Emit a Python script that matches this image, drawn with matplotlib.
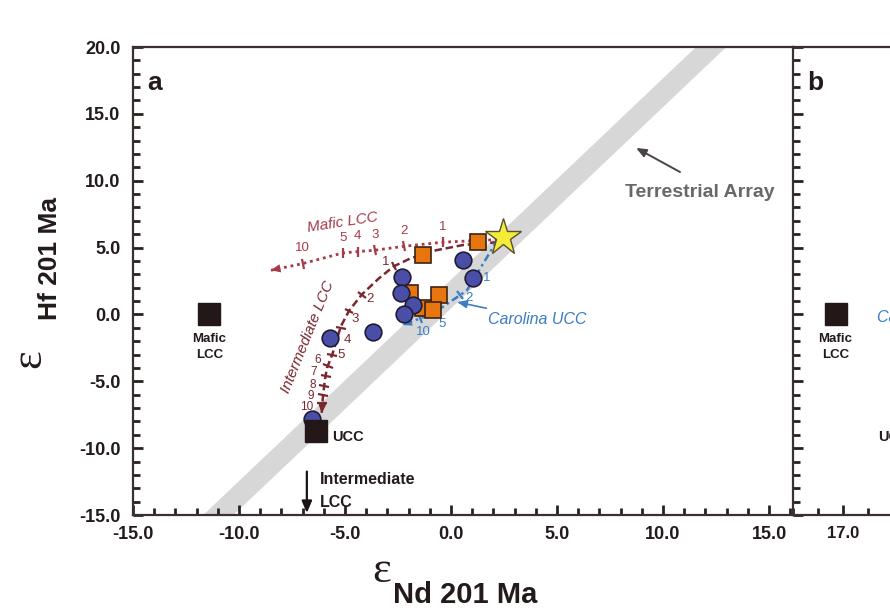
import matplotlib
matplotlib.use('Agg')
import matplotlib.pyplot as plt
from matplotlib.markers import MarkerStyle
from matplotlib.transforms import Affine2D
from matplotlib.ticker import MultipleLocator, FixedLocator, FormatStrFormatter
import numpy as np

plt.rcParams['font.family'] = ['Liberation Sans', 'DejaVu Sans']
plt.rcParams['axes.unicode_minus'] = False

# ---------------- data ----------------
# samples (panel a)
circle_nd = [-2.3, -2.35, -1.8, -2.2, 0.55, 1.05, -3.7, -5.7, -6.55]
circle_hf = [2.8, 1.6, 0.7, 0.0, 4.1, 2.75, -1.3, -1.75, -7.85]
square_nd = [1.25, -1.3, -1.95, -0.55, -1.3, -0.85]
square_hf = [5.45, 4.45, 1.6, 1.45, 0.5, 0.35]
star_nd, star_hf = [2.45], [5.8]

# end members
mafic_lcc = (-11.4, 0.0)
ucc = (-6.35, -8.7)
mafic_lcc_b = (16.7, 0.0)

# terrestrial array band (end points)
tarr_nd = [-12.3, 13.6]
tarr_hf = [-17.0, 22.0]

# mixing curves
mafic_x = [2.2, -0.4, -2.2, -3.6, -4.4, -5.1, -7.0, -8.5]
mafic_y = [5.6, 5.4, 5.1, 4.8, 4.7, 4.6, 3.8, 3.3]
mafic_tick_x = [-0.4, -2.2, -3.6, -4.4, -5.1, -7.0]
mafic_tick_y = [5.4, 5.1, 4.8, 4.7, 4.6, 3.8]
mafic_tick_lab = ['1', '2', '3', '4', '5', '10']

inter_x = [2.2, 0.6, -0.7, -1.9, -2.7, -3.4, -4.2, -4.8, -5.2, -5.6, -5.85, -5.95, -6.05, -6.1]
inter_y = [5.4, 5.2, 4.8, 4.2, 3.6, 2.7, 1.5, 0.3, -0.9, -3.0, -4.0, -4.9, -6.3, -7.4]
inter_tick_x = [-2.7, -4.2, -4.8, -5.2, -5.6, -5.82, -5.92, -5.98, -6.03, -6.07]
inter_tick_y = [3.6, 1.45, 0.25, -1.0, -3.0, -3.85, -4.6, -5.35, -6.0, -6.6]
inter_tick_lab = ['1', '2', '3', '4', '5', '6', '7', '8', '9', '10']

car_x = [2.2, 1.4, 0.75, -0.4, -1.3, -2.3]
car_y = [5.6, 3.5, 1.8, 0.55, -0.2, -0.8]
car_tick_x = [1.1, 0.4, -0.6, -1.45]
car_tick_y = [2.8, 1.45, 0.35, -0.27]
car_tick_lab = ['1', '2', '5', '10']

xticks_a = [-15, -10, -5, 0, 5, 10, 15]
yticks = [-15, -10, -5, 0, 5, 10, 15, 20]

# ---------------- style ----------------
SPINE = '#3b3030'
C_MAF = '#a63a46'
C_INT = '#7a2830'
C_CAR = '#3b7cc4'
C_BAND = '#d8d7d7'
C_ORANGE = '#e8760f'
C_BLUE = '#4a4ea6'

fig = plt.figure(figsize=(8.9, 6.08), dpi=100)
L, R, B, T = 133 / 890, 793 / 890, 1 - 515 / 608, 1 - 47 / 608
ax = fig.add_axes([L, B, R - L, T - B])
axb = fig.add_axes([R, B, (1200 - 793) / 890, T - B])

ax.set_xlim(-15, 16.13)
ax.set_ylim(-15, 20)
axb.set_xlim(15, 15 + 407 / 25)
axb.set_ylim(-15, 20)

for a in (ax, axb):
    for s in a.spines.values():
        s.set_color(SPINE)
        s.set_linewidth(1.6)
    a.tick_params(which='both', direction='in', color='#2a2020', width=2.0,
                  labelsize=13, top=False, right=False)
    a.tick_params(which='major', length=7)
    a.tick_params(which='minor', length=5)
ax.spines['right'].set_visible(False)
axb.spines['right'].set_visible(False)
axb.patch.set_visible(False)

ax.xaxis.set_major_locator(FixedLocator(xticks_a))
ax.xaxis.set_minor_locator(MultipleLocator(1))
ax.yaxis.set_major_locator(FixedLocator(yticks))
ax.yaxis.set_minor_locator(MultipleLocator(1))
ax.xaxis.set_major_formatter(FormatStrFormatter('%.1f'))
ax.yaxis.set_major_formatter(FormatStrFormatter('%.1f'))
ax.tick_params(axis='y', pad=9)
ax.tick_params(axis='x', pad=8)

axb.xaxis.set_major_locator(FixedLocator([17]))
axb.xaxis.set_minor_locator(MultipleLocator(1))
axb.xaxis.set_major_formatter(FormatStrFormatter('%.1f'))
axb.yaxis.set_major_locator(FixedLocator(yticks))
axb.yaxis.set_minor_locator(MultipleLocator(1))
axb.tick_params(axis='y', labelleft=False)
axb.tick_params(axis='x', pad=8, labelsize=12)

for lab in ax.get_xticklabels() + ax.get_yticklabels() + axb.get_xticklabels():
    lab.set_fontweight('bold')
    lab.set_color('#231a1a')

# terrestrial array
ax.plot(tarr_nd, tarr_hf, color=C_BAND, lw=15, solid_capstyle='butt', zorder=1)


def curve_ticks(xs, ys, cx, cy, color, labels, offsets, sizes):
    P = ax.transData.transform(np.column_stack([cx, cy]))
    for x, y, lab, off, fs in zip(xs, ys, labels, offsets, sizes):
        p = ax.transData.transform((x, y))
        best, ang = 1e9, 0
        for i in range(len(P) - 1):
            a0, a1 = P[i], P[i + 1]
            d = a1 - a0
            t = np.clip(np.dot(p - a0, d) / np.dot(d, d), 0, 1)
            dist = np.linalg.norm(a0 + t * d - p)
            if dist < best:
                best, ang = dist, np.degrees(np.arctan2(d[1], d[0]))
        m = MarkerStyle('|', transform=Affine2D().rotate_deg(ang))
        ax.plot([x], [y], marker=m, ms=7, mew=1.6, color=color, ls='none', zorder=3)
        ax.annotate(lab, (x, y), xytext=off, textcoords='offset points',
                    ha='center', va='center', color=color, fontsize=fs, zorder=3)


def arrow_end(cx, cy, color):
    ax.annotate('', xy=(cx[-1], cy[-1]), xytext=(cx[-2], cy[-2]),
                arrowprops=dict(arrowstyle='-|>,head_length=0.7,head_width=0.3',
                                color=color, lw=0, shrinkA=0, shrinkB=0),
                zorder=3)


# Mafic LCC mixing (dotted)
ax.plot(mafic_x, mafic_y, color=C_MAF, lw=2.0, ls=(0, (1, 1.4)), zorder=2)
arrow_end(mafic_x, mafic_y, C_MAF)
curve_ticks(mafic_tick_x, mafic_tick_y, mafic_x, mafic_y, C_MAF, mafic_tick_lab,
            [(0, 11)] * 6, [9.5] * 6)
ax.text(-5.1, 6.85, 'Mafic LCC', color=C_MAF, style='italic', fontsize=11,
        rotation=9, ha='center', va='center')

# Intermediate LCC mixing (dashed)
ax.plot(inter_x, inter_y, color=C_INT, lw=1.8, ls=(0, (3, 1.5)), zorder=2)
arrow_end(inter_x, inter_y, C_INT)
curve_ticks(inter_tick_x, inter_tick_y, inter_x, inter_y, C_INT, inter_tick_lab,
            [(-6, 3), (6, -3), (4, -6), (5, -9), (6, 0), (-7, 4.5), (-8.5, 3),
             (-8.5, 1), (-9, -1), (-11, -3.2)],
            [9.5, 9.5, 9.5, 9.5, 9.5, 8.5, 8.5, 8.5, 8.5, 8.5])
ax.text(-6.75, -1.7, 'Intermediate LCC', color=C_INT, style='italic', fontsize=11,
        rotation=68, ha='center', va='center')

# Carolina UCC mixing (dash-dot)
ax.plot(car_x, car_y, color=C_CAR, lw=1.8, ls=(0, (3, 1.5, 1, 1.5)), zorder=2)
arrow_end(car_x, car_y, C_CAR)
curve_ticks(car_tick_x, car_tick_y, car_x, car_y, C_CAR, car_tick_lab,
            [(9, -1), (7, -2), (3, -10), (2, -10)], [9.5] * 4)
ax.annotate('Carolina UCC', xy=(0.28, 0.93), xytext=(1.75, -0.35),
            color=C_CAR, style='italic', fontsize=11.5, ha='left', va='center',
            arrowprops=dict(arrowstyle='-|>,head_length=0.5,head_width=0.2',
                            color=C_CAR, lw=1.2, shrinkA=2, shrinkB=0))

# samples
ax.plot(square_nd, square_hf, 's', ms=11, mfc=C_ORANGE, mec='#3d2316', mew=1.2,
        ls='none', zorder=4)
ax.plot(circle_nd, circle_hf, 'o', ms=12, mfc=C_BLUE, mec='#1f1c36', mew=1.2,
        ls='none', zorder=5)
ax.plot(star_nd, star_hf, '*', ms=28, mfc='#f4ec38', mec='#5a5030', mew=1.0,
        ls='none', zorder=7)

# end members
ax.plot(*mafic_lcc, 's', ms=16, color='#231717', zorder=6)
ax.plot(*ucc, 's', ms=16, color='#231717', zorder=6)
ax.text(mafic_lcc[0], -1.4, 'Mafic\nLCC', ha='center', va='top', fontsize=9.5,
        fontweight='bold', color='#231a1a', linespacing=1.45)
ax.text(-5.6, -9.2, 'UCC', ha='left', va='center', fontsize=10.5,
        fontweight='bold', color='#231a1a')
ax.text(-6.2, -13.2, 'Intermediate\nLCC', ha='left', va='center', fontsize=11.5,
        fontweight='bold', color='#231a1a', linespacing=1.6)
ax.annotate('', xy=(-6.8, -14.85), xytext=(-6.8, -11.75),
            arrowprops=dict(arrowstyle='-|>,head_length=0.7,head_width=0.3',
                            color='#1a1414', lw=1.6, shrinkA=0, shrinkB=0))

# terrestrial array label
ax.text(8.2, 9.15, 'Terrestrial Array', color='#6b6768', fontsize=14,
        fontweight='bold', ha='left', va='center')
ax.annotate('', xy=(8.73, 12.45), xytext=(10.8, 10.65),
            arrowprops=dict(arrowstyle='-|>,head_length=0.6,head_width=0.25',
                            color='#4a4445', lw=1.4, shrinkA=0, shrinkB=0))

# panel labels
ax.text(0.022, 0.908, 'a', transform=ax.transAxes, fontsize=19, fontweight='bold',
        color='#231a1a', va='baseline')
axb.text(0.035, 0.908, 'b', transform=axb.transAxes, fontsize=19, fontweight='bold',
         color='#231a1a', va='baseline')

# panel b (partially visible)
axb.plot(*mafic_lcc_b, 's', ms=16, color='#231717', zorder=6, clip_on=False)
axb.text(mafic_lcc_b[0], -1.4, 'Mafic\nLCC', ha='center', va='top', fontsize=9.5,
         fontweight='bold', color='#231a1a', linespacing=1.45)
axb.text(18.35, -0.2, 'Carolina UCC', color=C_CAR, style='italic', fontsize=11.5,
         ha='left', va='center')
axb.text(18.4, -9.2, 'UCC', ha='left', va='center', fontsize=10.5,
         fontweight='bold', color='#231a1a')

# axis labels
fig.text(372 / 890, 1 - 582 / 608, 'ε', family=['Liberation Serif', 'DejaVu Serif'],
         fontsize=32, color='#231a1a', ha='left', va='baseline')
fig.text(393 / 890, 1 - 603 / 608, 'Nd 201 Ma', fontsize=21, fontweight='bold',
         color='#231a1a', ha='left', va='baseline')
fig.text(40 / 890, 1 - 368 / 608, 'ε', family=['Liberation Serif', 'DejaVu Serif'],
         fontsize=32, color='#231a1a', ha='left', va='baseline', rotation=90,
         rotation_mode='anchor')
fig.text(57 / 890, 1 - 320 / 608, 'Hf 201 Ma', fontsize=19, fontweight='bold',
         color='#231a1a', ha='left', va='baseline', rotation=90,
         rotation_mode='anchor')

fig.savefig('out.png', dpi=100)
